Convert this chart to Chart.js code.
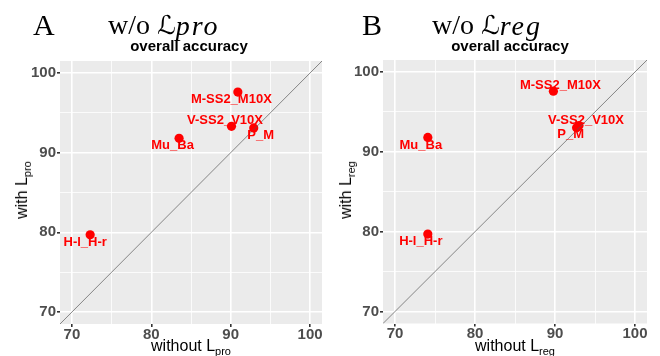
<!DOCTYPE html>
<html>
<head>
<meta charset="utf-8">
<script src="https://cdn.jsdelivr.net/npm/chart.js@4/dist/chart.umd.min.js"></script>
<style>
  body { margin: 0; background: #fff; }
  .panel { position: absolute; top: 0; width: 330px; height: 356px; }
  .panel canvas { position: absolute; left: 0; top: 0; }
  .txt { position: absolute; white-space: nowrap; }
  .tag { font: 30px "Liberation Serif", serif; line-height: 30px; color: #000; }
  .head { font: 28px "Liberation Serif", serif; line-height: 28px; color: #000; }
  .cal { font-family: "DejaVu Serif", "DejaVu Sans", serif; font-size: 26px; }
  .head i { letter-spacing: 2px; position: relative; top: 1px; }
  .sub { font: bold 15px "Liberation Sans", Arial, sans-serif; line-height: 15px; transform: translateX(-50%); }
  .axt { font: 16px "Liberation Sans", Arial, sans-serif; line-height: 16px; color: #000; }
  .axt sub { font-size: 11px; line-height: 0; vertical-align: -4px; }
  .xt { transform: translateX(-50%); }
  .yt { transform: translate(-50%, -50%) rotate(-90deg); }
</style>
</head>
<body>
<div class="panel" style="left:0">
  <canvas id="chartA" width="330" height="356"></canvas>
  <div class="txt tag" style="left:33px;top:10px">A</div>
  <div class="txt head" style="left:108px;top:11px">w/o <span class="cal">ℒ</span><i>pro</i></div>
  <div class="txt sub" style="left:189px;top:38px">overall accuracy</div>
  <div class="txt axt yt" style="left:22px;top:190px">with L<sub>pro</sub></div>
  <div class="txt axt xt" style="left:191px;top:338px">without L<sub>pro</sub></div>
</div>
<div class="panel" style="left:330px">
  <canvas id="chartB" width="330" height="356"></canvas>
  <div class="txt tag" style="left:32px;top:10px">B</div>
  <div class="txt head" style="left:102px;top:11px">w/o <span class="cal">ℒ</span><i>reg</i></div>
  <div class="txt sub" style="left:180px;top:38px">overall accuracy</div>
  <div class="txt axt yt" style="left:16px;top:190px">with L<sub>reg</sub></div>
  <div class="txt axt xt" style="left:185px;top:338px">without L<sub>reg</sub></div>
</div>
<script>
// methods compared in both panels
const methods = ['M-SS2_M10X', 'V-SS2_V10X', 'P_M', 'Mu_Ba', 'H-l_H-r'];

// panel A: overall accuracy without / with L_pro
const withoutPro = [90.9, 90.1, 92.9, 83.5, 72.3];
const withPro    = [97.6, 93.3, 93.1, 91.8, 79.7];

// panel B: overall accuracy without / with L_reg
const withoutReg = [89.8, 93.0, 92.7, 74.1, 74.1];
const withReg    = [97.6, 93.3, 93.0, 91.8, 79.7];

const axisLimits = [68.5, 101.5];
const tickVals = [70, 75, 80, 85, 90, 95, 100];

const sans = '"Liberation Sans", Arial, sans-serif';

// label nudges (pixels), like ggrepel placed them
const nudgeA = [[-6.5, 7], [-6.5, -6], [7, 7], [-6.5, 7], [-5, 8]];
const nudgeB = [[7, -5.5], [7, -5.5], [-6, 6.5], [-7, 8], [-7, 7]];

const panelBg = {
    id: 'panelBg',
    beforeDraw(chart) {
        const a = chart.chartArea;
        chart.ctx.save();
        chart.ctx.fillStyle = '#EBEBEB';
        chart.ctx.fillRect(a.left, a.top, a.right - a.left, a.bottom - a.top);
        chart.ctx.restore();
    }
};

const pointLabels = {
    id: 'pointLabels',
    afterDatasetsDraw(chart, args, opts) {
        const ctx = chart.ctx;
        const meta = chart.getDatasetMeta(1);
        ctx.save();
        ctx.font = 'bold 13px ' + sans;
        ctx.fillStyle = '#FF0000';
        ctx.textAlign = 'center';
        ctx.textBaseline = 'middle';
        meta.data.forEach((pt, i) => {
            ctx.fillText(opts.names[i], pt.x + opts.nudge[i][0], pt.y + opts.nudge[i][1]);
        });
        ctx.restore();
    }
};

function axis(fit, pad) {
    return {
        type: 'linear',
        min: axisLimits[0],
        max: axisLimits[1],
        afterBuildTicks(s) { s.ticks = tickVals.map(v => ({ value: v })); },
        afterFit: fit,
        ticks: {
            callback: v => (v % 10 === 0 ? v : ''),
            font: { family: sans, size: 15, weight: 'bold', lineHeight: 1 },
            color: '#4D4D4D',
            padding: pad,
            autoSkip: false,
            maxRotation: 0
        },
        grid: {
            color: '#FFFFFF',
            lineWidth: c => (c.tick && c.tick.value % 10 === 0 ? 1.6 : 0.8),
            tickColor: c => (c.tick && c.tick.value % 10 === 0 ? '#333333' : 'rgba(0,0,0,0)'),
            tickLength: 3
        },
        border: { display: false }
    };
}

function makePanel(id, xs, ys, nudge, area) {
    const pts = xs.map((x, i) => ({ x: x, y: ys[i] }));
    const diag = axisLimits.map(v => ({ x: v, y: v }));
    return new Chart(document.getElementById(id), {
        type: 'scatter',
        data: {
            datasets: [{
                type: 'line',
                data: diag,
                borderColor: '#595959',
                borderWidth: 0.7,
                pointRadius: 0
            }, {
                data: pts,
                backgroundColor: '#FF0000',
                borderWidth: 0,
                pointRadius: 4.6
            }]
        },
        options: {
            responsive: false,
            animation: false,
            events: [],
            layout: { padding: { left: 0, top: area.top, right: 330 - area.right, bottom: 0 } },
            plugins: {
                legend: { display: false },
                tooltip: { enabled: false },
                pointLabels: { names: methods, nudge: nudge }
            },
            scales: {
                x: axis(s => { s.height = 356 - area.bottom; }, 0),
                y: axis(s => { s.width = area.left; }, 1)
            }
        },
        plugins: [panelBg, pointLabels]
    });
}

makePanel('chartA', withoutPro, withPro, nudgeA, { left: 60, top: 61, right: 322, bottom: 324 });
makePanel('chartB', withoutReg, withReg, nudgeB, { left: 53, top: 60, right: 317, bottom: 323.5 });
</script>
</body>
</html>
